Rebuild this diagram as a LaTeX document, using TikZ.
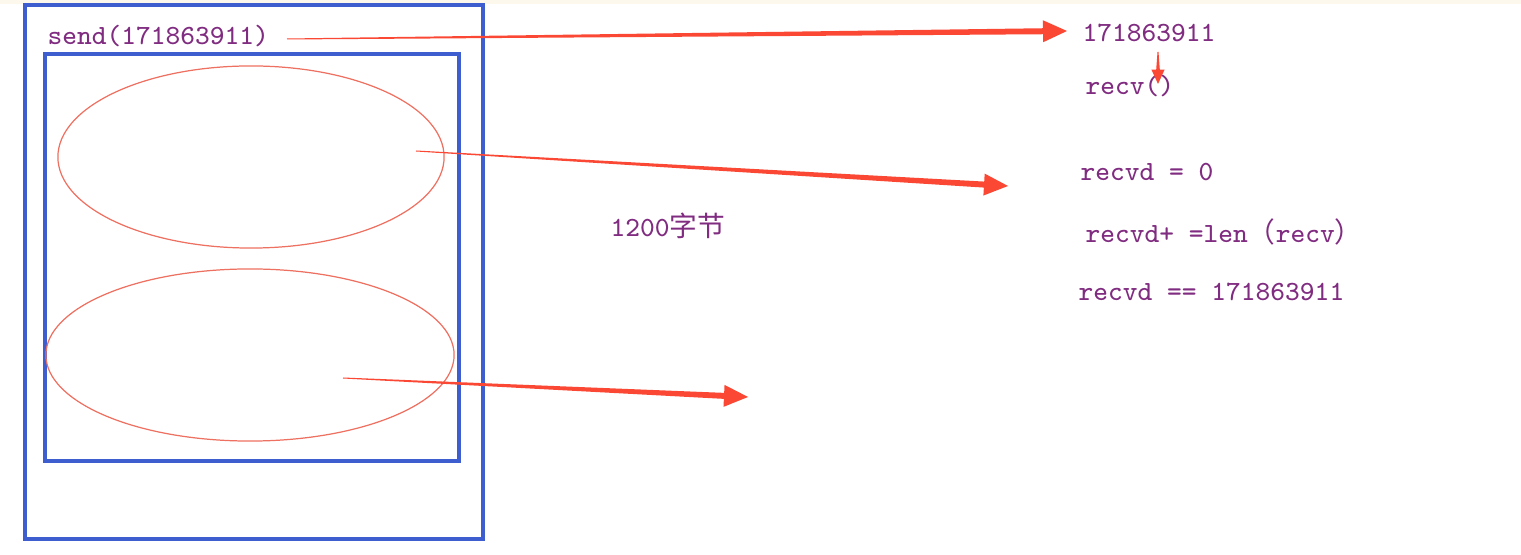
\documentclass[tikz,border=0pt]{standalone}
\usepackage{fontspec}
\usetikzlibrary{calc}
\newfontfamily\cjkfont{Noto Sans CJK SC}
\definecolor{boxblue}{RGB}{62,94,208}
\definecolor{ringred}{RGB}{238,112,96}
\definecolor{arrowred}{RGB}{250,72,52}
\definecolor{codepurple}{RGB}{128,44,128}
\definecolor{topcream}{RGB}{252,249,236}
\tikzset{
  code/.style={anchor=base west,inner sep=0pt,text=codepurple,
    font=\ttfamily\fontsize{7.9}{9.5}\selectfont},
  frame/.style={boxblue,line width=1pt},
  ring/.style={ringred,line width=0.35pt}
}
% tapered arrow: [scale]{from}{to}
\newcommand{\taperarrow}[3][1]{%
  \coordinate (hb) at ($(#3)!#1*0.24cm!(#2)$);
  \fill[arrowred] ($(#2)!0.05mm!90:(#3)$) -- ($(hb)!#1*0.3mm!-90:(#2)$)
    -- ($(hb)!#1*1.1mm!-90:(#2)$) -- (#3) -- ($(hb)!#1*1.1mm!90:(#2)$)
    -- ($(hb)!#1*0.3mm!90:(#2)$) -- ($(#2)!0.05mm!-90:(#3)$) -- cycle;}

\begin{document}
\begin{tikzpicture}[x=0.01cm,y=-0.01cm]
  \useasboundingbox (0,0) rectangle (1521,555);
  \fill[topcream] (0,0) rectangle (1521,4);
  % sender side
  \draw[frame] (25,5) rectangle (483,539);
  \draw[frame] (45,54) rectangle (459,461);
  \draw[ring] (251,157) ellipse [x radius=1.93cm,y radius=0.91cm];
  \draw[ring] (250,355) ellipse [x radius=2.04cm,y radius=0.86cm];
  \node[code] (send) at (47,45) {send(171863911)};
  % receiver side
  \node[code] (total) at (1082,42) {171863911};
  \node[code] (recv) at (1085,95) {recv()};
  \node[code] (recvd0) at (1080,181) {recvd = 0};
  \node[code] (recvdadd) at (1085,243) {recvd+ =len{\cjkfont （}recv{\cjkfont ）}};
  \node[code] (recvdeq) at (1078,301) {recvd == 171863911};
  \node[code] (bytes) at (610,237) {1200{\cjkfont 字节}};
  % arrows
  \coordinate (sendout) at (287,39);
  \coordinate (totalin) at (1067,31);
  \coordinate (partA) at (416,151);
  \coordinate (partAend) at (1008,186);
  \coordinate (partB) at (343,378);
  \coordinate (partBend) at (748,397);
  \coordinate (totaldown) at (1158,52);
  \coordinate (recvin) at (1158,84);
  \taperarrow{sendout}{totalin}
  \taperarrow{partA}{partAend}
  \taperarrow{partB}{partBend}
  \taperarrow[0.6]{totaldown}{recvin}
\end{tikzpicture}
\end{document}
